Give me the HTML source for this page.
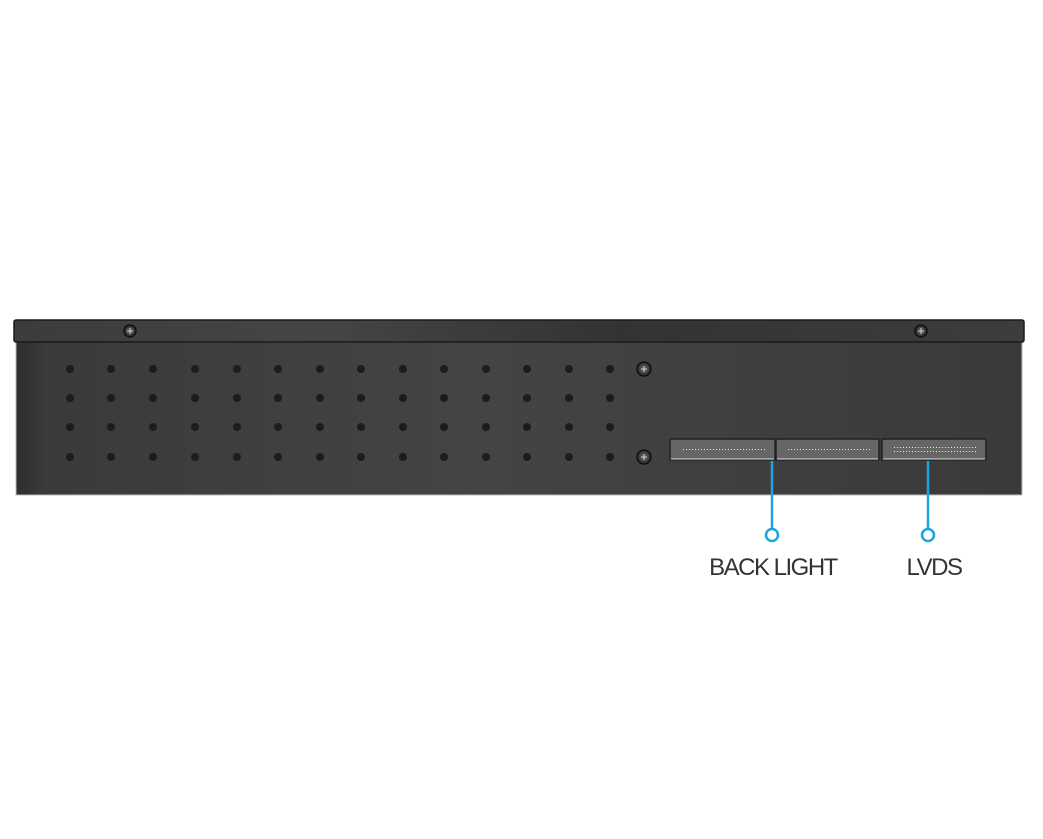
<!DOCTYPE html>
<html><head><style>
body{margin:0;width:1043px;height:834px;background:#fff;overflow:hidden;font-family:"Liberation Sans",sans-serif}
</style></head><body>
<svg width="1043" height="834" xmlns="http://www.w3.org/2000/svg">
<defs>
<linearGradient id="b" x1="0" x2="1" y1="0" y2="0">
<stop offset="0" stop-color="#2e2e2f"/><stop offset="0.03" stop-color="#3a3a3b"/><stop offset="0.45" stop-color="#444446"/><stop offset="1" stop-color="#3a3a3b"/>
</linearGradient>
<linearGradient id="t" x1="0" x2="1"><stop offset="0" stop-color="#3c3c3d"/><stop offset="0.3" stop-color="#454546"/><stop offset="0.6" stop-color="#333334"/><stop offset="1" stop-color="#3d3d3e"/></linearGradient>
<radialGradient id="s"><stop offset="0" stop-color="#777"/><stop offset="1" stop-color="#222"/></radialGradient>
</defs>
<rect x="16" y="341" width="1006" height="154" fill="url(#b)" stroke="#bbb" stroke-width="1"/>
<rect x="14" y="320" width="1010" height="22" rx="2" fill="url(#t)" stroke="#1a1a1a" stroke-width="1.5"/>
<g fill="#1e1b1c">
<circle cx="70" cy="369" r="4"/><circle cx="111" cy="369" r="4"/><circle cx="153" cy="369" r="4"/><circle cx="195" cy="369" r="4"/><circle cx="237" cy="369" r="4"/><circle cx="278" cy="369" r="4"/><circle cx="320" cy="369" r="4"/><circle cx="361" cy="369" r="4"/><circle cx="403" cy="369" r="4"/><circle cx="444" cy="369" r="4"/><circle cx="486" cy="369" r="4"/><circle cx="527" cy="369" r="4"/><circle cx="569" cy="369" r="4"/><circle cx="610" cy="369" r="4"/>
<circle cx="70" cy="398" r="4"/><circle cx="111" cy="398" r="4"/><circle cx="153" cy="398" r="4"/><circle cx="195" cy="398" r="4"/><circle cx="237" cy="398" r="4"/><circle cx="278" cy="398" r="4"/><circle cx="320" cy="398" r="4"/><circle cx="361" cy="398" r="4"/><circle cx="403" cy="398" r="4"/><circle cx="444" cy="398" r="4"/><circle cx="486" cy="398" r="4"/><circle cx="527" cy="398" r="4"/><circle cx="569" cy="398" r="4"/><circle cx="610" cy="398" r="4"/>
<circle cx="70" cy="427" r="4"/><circle cx="111" cy="427" r="4"/><circle cx="153" cy="427" r="4"/><circle cx="195" cy="427" r="4"/><circle cx="237" cy="427" r="4"/><circle cx="278" cy="427" r="4"/><circle cx="320" cy="427" r="4"/><circle cx="361" cy="427" r="4"/><circle cx="403" cy="427" r="4"/><circle cx="444" cy="427" r="4"/><circle cx="486" cy="427" r="4"/><circle cx="527" cy="427" r="4"/><circle cx="569" cy="427" r="4"/><circle cx="610" cy="427" r="4"/>
<circle cx="70" cy="457" r="4"/><circle cx="111" cy="457" r="4"/><circle cx="153" cy="457" r="4"/><circle cx="195" cy="457" r="4"/><circle cx="237" cy="457" r="4"/><circle cx="278" cy="457" r="4"/><circle cx="320" cy="457" r="4"/><circle cx="361" cy="457" r="4"/><circle cx="403" cy="457" r="4"/><circle cx="444" cy="457" r="4"/><circle cx="486" cy="457" r="4"/><circle cx="527" cy="457" r="4"/><circle cx="569" cy="457" r="4"/><circle cx="610" cy="457" r="4"/>
</g>
<g stroke="#111" stroke-width="1.5" fill="url(#s)">
<circle cx="130" cy="331" r="6"/><circle cx="921" cy="331" r="6"/><circle cx="644" cy="369" r="7"/><circle cx="644" cy="457" r="7"/>
</g>
<g stroke="#ccc" stroke-width="1">
<line x1="127" y1="331" x2="133" y2="331"/><line x1="130" y1="328" x2="130" y2="334"/>
<line x1="918" y1="331" x2="924" y2="331"/><line x1="921" y1="328" x2="921" y2="334"/>
<line x1="641" y1="369" x2="647" y2="369"/><line x1="644" y1="366" x2="644" y2="372"/>
<line x1="641" y1="457" x2="647" y2="457"/><line x1="644" y1="454" x2="644" y2="460"/>
</g>
<g fill="#666" stroke="#222" stroke-width="1.5">
<rect x="670" y="439" width="105" height="21" rx="1"/>
<rect x="776" y="439" width="103" height="21" rx="1"/>
<rect x="882" y="439" width="104" height="21" rx="1"/>
</g>
<g stroke="#ddd" stroke-width="1" fill="none">
<line x1="671" y1="459" x2="774" y2="459"/><line x1="777" y1="459" x2="878" y2="459"/><line x1="883" y1="459" x2="985" y2="459"/>
</g>
<g stroke="#e8e8e8" stroke-width="1" stroke-dasharray="1 2">
<line x1="683" y1="449.5" x2="765" y2="449.5"/>
<line x1="788" y1="449.5" x2="870" y2="449.5"/>
<line x1="894" y1="447.5" x2="976" y2="447.5"/>
<line x1="894" y1="451.5" x2="976" y2="451.5"/>
</g>
<g stroke="#1ba6e0" stroke-width="2.5" fill="#fff">
<line x1="772" y1="461" x2="772" y2="529"/>
<line x1="928" y1="461" x2="928" y2="529"/>
<circle cx="772" cy="535" r="6"/>
<circle cx="928" cy="535" r="6"/>
</g>
<g fill="#333" font-size="24" font-family="Liberation Sans, sans-serif" text-anchor="middle" letter-spacing="-1.5">
<text x="773" y="575">BACK LIGHT</text>
<text x="934" y="575">LVDS</text>
</g>
</svg>
</body></html>
